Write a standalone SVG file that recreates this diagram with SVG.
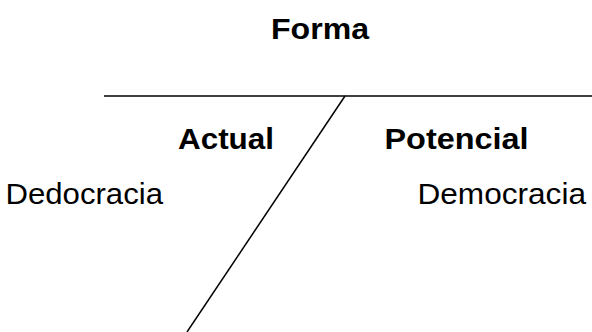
<svg xmlns="http://www.w3.org/2000/svg" width="592" height="332" viewBox="0 0 592 332">
<style>
.b{font-family:"Liberation Sans",Arial,sans-serif;font-weight:bold;font-size:30px;fill:#000}
.r{font-family:"Liberation Sans",Arial,sans-serif;font-size:30px;fill:#000}
.ln{stroke:#000;stroke-width:1.5;fill:none}
</style>
<rect width="592" height="332" fill="#fff"/>
<g id="connectors">
<line class="ln" x1="104" y1="96" x2="592" y2="96"/>
<line class="ln" x1="345" y1="96" x2="187" y2="332"/>
</g>
<g id="forma"><text class="b" x="271" y="39" textLength="98" lengthAdjust="spacingAndGlyphs">Forma</text></g>
<g id="actual"><text class="b" x="178" y="149" textLength="96" lengthAdjust="spacingAndGlyphs">Actual</text></g>
<g id="potencial"><text class="b" x="384.5" y="149" textLength="144" lengthAdjust="spacingAndGlyphs">Potencial</text></g>
<g id="dedocracia"><text class="r" x="5.5" y="203.5" textLength="157.5" lengthAdjust="spacingAndGlyphs">Dedocracia</text></g>
<g id="democracia"><text class="r" x="417.5" y="203.5" textLength="168.5" lengthAdjust="spacingAndGlyphs">Democracia</text></g>
</svg>
